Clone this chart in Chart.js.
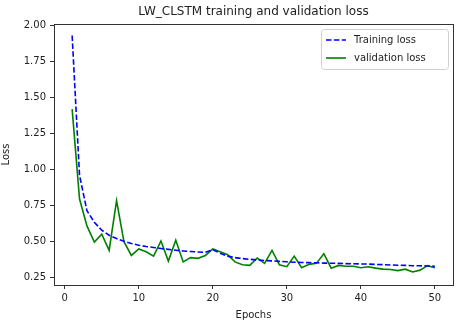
<!DOCTYPE html>
<html>
<head>
<meta charset="utf-8">
<script src="https://cdn.jsdelivr.net/npm/chart.js@4.4.1/dist/chart.umd.min.js"></script>
<style>
  html, body { margin: 0; padding: 0; background: #fff; }
  #wrap { width: 459px; height: 323px; position: relative; }
</style>
</head>
<body>
<div id="wrap"><canvas id="lossChart" width="459" height="323"></canvas></div>
<script>
// datos
const epochs = Array.from({ length: 50 }, (_, i) => i + 1);
const trainingLoss = [
  1.93, 0.96, 0.715, 0.635, 0.58, 0.545, 0.522, 0.503, 0.488, 0.476,
  0.467, 0.46, 0.453, 0.447, 0.441, 0.436, 0.432, 0.429, 0.427, 0.445,
  0.42, 0.40, 0.39, 0.383, 0.378, 0.374, 0.37, 0.367, 0.364, 0.361,
  0.358, 0.356, 0.355, 0.354, 0.352, 0.351, 0.35, 0.348, 0.347, 0.346,
  0.345, 0.343, 0.341, 0.339, 0.337, 0.336, 0.334, 0.333, 0.332, 0.33
];
const validationLoss = [
  1.42, 0.796, 0.61, 0.498, 0.552, 0.44, 0.785, 0.50, 0.405, 0.45,
  0.43, 0.40, 0.505, 0.366, 0.51, 0.36, 0.39, 0.385, 0.405, 0.45,
  0.43, 0.41, 0.36, 0.34, 0.336, 0.387, 0.35, 0.44, 0.34, 0.327,
  0.40, 0.32, 0.343, 0.35, 0.417, 0.317, 0.336, 0.33, 0.33, 0.32,
  0.327, 0.317, 0.31, 0.307, 0.30, 0.31, 0.29, 0.303, 0.334, 0.32
];
const xTicks = [0, 10, 20, 30, 40, 50];
const yTicks = [0.25, 0.5, 0.75, 1.0, 1.25, 1.5, 1.75, 2.0];
const chartTitle = 'LW_CLSTM training and validation loss';

const FONT = 'DejaVu Sans';
const INK = '#222';

// titulo centrado sobre el area, marco completo y leyenda estilo matplotlib
const frameAndLegend = {
    id: 'frameAndLegend',
    afterDraw(chart) {
        const { ctx, chartArea: a } = chart;
        ctx.save();
        ctx.fillStyle = INK;
        ctx.font = '12px "' + FONT + '"';
        ctx.textAlign = 'center';
        ctx.textBaseline = 'middle';
        ctx.fillText(chartTitle, (a.left + a.right) / 2, 12);

        ctx.strokeStyle = '#333';
        ctx.lineWidth = 1;
        ctx.strokeRect(Math.round(a.left) + 0.5, Math.round(a.top) + 0.5,
                       Math.round(a.right - a.left), Math.round(a.bottom - a.top));

        // leyenda
        const bx = 321, by = 29, bw = 127, bh = 40;
        ctx.fillStyle = 'rgba(255,255,255,0.8)';
        ctx.strokeStyle = '#d0d0d0';
        ctx.beginPath();
        ctx.roundRect(bx + 0.5, by + 0.5, bw, bh, 3);
        ctx.fill();
        ctx.stroke();

        ctx.font = '10px "' + FONT + '"';
        ctx.textAlign = 'left';
        ctx.textBaseline = 'middle';
        chart.data.datasets.forEach((ds, i) => {
            const yy = by + 11 + i * 18;
            ctx.strokeStyle = ds.borderColor;
            ctx.lineWidth = ds.borderWidth;
            ctx.setLineDash(ds.borderDash || []);
            ctx.beginPath();
            ctx.moveTo(bx + 5, yy);
            ctx.lineTo(bx + 25, yy);
            ctx.stroke();
            ctx.setLineDash([]);
            ctx.fillStyle = INK;
            ctx.fillText(ds.label, bx + 33, yy);
        });
        ctx.restore();
    }
};

const ctx = document.getElementById('lossChart').getContext('2d');
new Chart(ctx, {
    type: 'line',
    data: {
        datasets: [
            {
                label: 'Training loss',
                data: epochs.map((e, i) => ({ x: e, y: trainingLoss[i] })),
                borderColor: '#0000ff',
                borderWidth: 1.6,
                borderDash: [5.5, 2.4],
                pointRadius: 0,
                tension: 0
            },
            {
                label: 'validation loss',
                data: epochs.map((e, i) => ({ x: e, y: validationLoss[i] })),
                borderColor: '#008000',
                borderWidth: 1.6,
                pointRadius: 0,
                tension: 0
            }
        ]
    },
    options: {
        responsive: false,
        animation: false,
        devicePixelRatio: 1,
        layout: { padding: { left: 0, right: 6, top: 24, bottom: 0 } },
        plugins: {
            legend: { display: false },
            tooltip: { enabled: false },
            title: { display: false }
        },
        scales: {
            x: {
                type: 'linear',
                min: -1.45,
                max: 52.45,
                afterBuildTicks: s => { s.ticks = xTicks.map(v => ({ value: v })); },
                afterFit: s => { s.height = 38; },
                grid: { display: true, drawOnChartArea: false, drawTicks: true, tickLength: 4, color: '#333' },
                border: { display: false },
                ticks: { color: INK, font: { family: FONT, size: 10 }, padding: 3, maxRotation: 0, autoSkip: false },
                title: { display: true, text: 'Epochs', color: INK, font: { family: FONT, size: 10 }, padding: { top: 0, bottom: 2 } }
            },
            y: {
                min: 0.2,
                max: 2.01,
                afterBuildTicks: s => { s.ticks = yTicks.map(v => ({ value: v })); },
                afterFit: s => { s.width = 54; },
                grid: { display: true, drawOnChartArea: false, drawTicks: true, tickLength: 4, color: '#333' },
                border: { display: false },
                ticks: {
                    color: INK,
                    font: { family: FONT, size: 10 },
                    padding: 4,
                    autoSkip: false,
                    callback: v => v.toFixed(2)
                },
                title: { display: true, text: 'Loss', color: INK, font: { family: FONT, size: 10 }, padding: { top: 0, bottom: 2 } }
            }
        }
    },
    plugins: [frameAndLegend]
});
</script>
</body>
</html>
